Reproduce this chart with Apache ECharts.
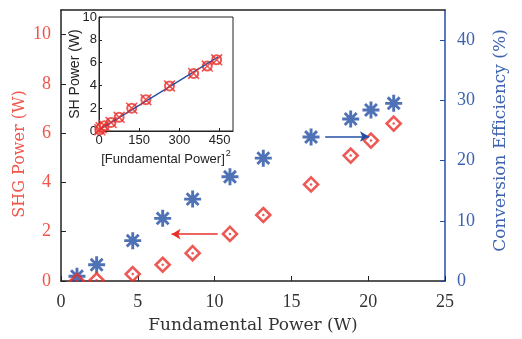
<!DOCTYPE html>
<html>
<head>
<meta charset="utf-8">
<script src="https://cdn.jsdelivr.net/npm/echarts@6/dist/echarts.min.js"></script>
<style>
  html, body { margin: 0; padding: 0; background: #fff; }
  #chart { width: 522px; height: 339px; }
</style>
</head>
<body>
<div id="chart"></div>
<script>
// main plot data
const power = [1.04, 2.32, 4.67, 6.62, 8.57, 11.0, 13.17, 16.28, 18.86, 20.18, 21.66];
const shgPower = [0.0, 0.03, 0.28, 0.66, 1.13, 1.91, 2.68, 3.92, 5.09, 5.70, 6.39];
const efficiency = [0.8, 2.7, 6.7, 10.4, 13.6, 17.3, 20.4, 23.9, 26.9, 28.4, 29.5];
const redArrow = [[10.2, 1.9], [7.2, 1.9]];
const blueArrow = [[17.2, 24.0], [20.05, 24.0]];

// inset data
const powerSq = [3, 8, 20, 45, 75, 122, 175, 263, 353, 404, 439];
const shPower = [0.1, 0.28, 0.45, 0.75, 1.2, 2.0, 2.75, 3.95, 5.05, 5.7, 6.25];
const fitX = [0, 445];
const fitY = [0.1, 6.5];

const RED = '#e8302a';
const RED_TXT = '#f0544a';
const BLUE = '#234ea4';
const BLUE_TXT = '#3e62b0';
const SERIF = '"DejaVu Serif", serif';
const NUM = '"Liberation Serif", serif';
const SANS = '"Liberation Sans", Arial, sans-serif';

const asterisk = 'path://M8.3 0L11.7 0L11.7 20L8.3 20Z M0 8.3L20 8.3L20 11.7L0 11.7Z ' +
  'M4.2 1.8L18.2 15.8L15.8 18.2L1.8 4.2Z M15.8 1.8L18.2 4.2L4.2 18.2L1.8 15.8Z';
const cross = 'path://M3.5 2L18 16.5L16.5 18L2 3.5Z M16.5 2L18 3.5L3.5 18L2 16.5Z';

const zip = (a, b) => a.map((v, i) => [v, b[i]]);

const chart = echarts.init(document.getElementById('chart'));
chart.setOption({
  animation: false,
  backgroundColor: '#fff',
  grid: [
    { left: 61, right: 77, top: 10, bottom: 58, outerBoundsMode: 'none' },
    { left: 99, right: 289, top: 17, bottom: 208, outerBoundsMode: 'none',
      show: true, backgroundColor: '#fff', borderColor: '#222', borderWidth: 1, z: 5 }
  ],
  xAxis: [
    {
      gridIndex: 0, type: 'value', min: 0, max: 25, interval: 5,
      name: 'Fundamental Power (W)', nameLocation: 'middle', nameGap: 36, nameMoveOverlap: false,
      nameTextStyle: { color: '#333', fontFamily: SERIF, fontSize: 17 },
      axisLine: { onZero: false, lineStyle: { color: '#222', width: 1.5 } },
      axisTick: { inside: true, length: 5, lineStyle: { color: '#222' } },
      axisLabel: { color: '#333', fontFamily: NUM, fontSize: 18, margin: 12 },
      splitLine: { show: false }
    },
    {
      gridIndex: 0, type: 'value', min: 0, max: 25, position: 'top',
      axisLine: { onZero: false, lineStyle: { color: '#222', width: 1.5 } },
      axisTick: { show: false }, axisLabel: { show: false }, splitLine: { show: false }
    },
    {
      gridIndex: 1, type: 'value', min: 0, max: 500, interval: 150,
      name: '[Fundamental Power]{s|2}', nameLocation: 'middle', nameGap: 18, nameMoveOverlap: false,
      nameTextStyle: { color: '#222', fontFamily: SANS, fontSize: 13,
        rich: { s: { fontSize: 9, verticalAlign: 'top', padding: [0, 0, 12, 1], color: '#222' } } },
      axisLine: { onZero: false, lineStyle: { color: '#222' } },
      axisTick: { inside: true, length: 3, lineStyle: { color: '#222' } },
      axisLabel: { color: '#222', fontFamily: SANS, fontSize: 13, margin: 3, showMaxLabel: false },
      splitLine: { show: false }, z: 6
    }
  ],
  yAxis: [
    {
      gridIndex: 0, type: 'value', min: 0, max: 11, interval: 2, position: 'left',
      name: 'SHG Power (W)', nameLocation: 'middle', nameGap: 33, nameMoveOverlap: false,
      nameTextStyle: { color: RED_TXT, fontFamily: SERIF, fontSize: 16, padding: [0, 17, 0, 0] },
      axisLine: { show: true, onZero: false, lineStyle: { color: '#222', width: 1.5 } },
      axisTick: { show: true, inside: true, length: 5, lineStyle: { color: '#222' } },
      axisLabel: { color: RED_TXT, fontFamily: NUM, fontSize: 18, margin: 10, showMaxLabel: false },
      splitLine: { show: false }
    },
    {
      gridIndex: 0, type: 'value', min: 0, max: 45, interval: 10, position: 'right',
      name: 'Conversion Efficiency (%)', nameLocation: 'middle', nameGap: 47, nameMoveOverlap: false,
      nameTextStyle: { color: BLUE_TXT, fontFamily: SERIF, fontSize: 17, padding: [0, 0, 0, 10] },
      axisLine: { show: true, onZero: false, lineStyle: { color: BLUE, width: 1.5 } },
      axisTick: { show: true, inside: true, length: 5, lineStyle: { color: BLUE } },
      axisLabel: { color: BLUE_TXT, fontFamily: NUM, fontSize: 18, margin: 12, showMaxLabel: false },
      splitLine: { show: false }
    },
    {
      gridIndex: 1, type: 'value', min: 0, max: 10, interval: 2,
      name: 'SH Power (W)', nameLocation: 'middle', nameGap: 17, nameMoveOverlap: false,
      nameTextStyle: { color: '#222', fontFamily: SANS, fontSize: 14 },
      axisLine: { show: true, onZero: false, lineStyle: { color: '#222' } },
      axisTick: { show: true, inside: true, length: 3, lineStyle: { color: '#222' } },
      axisLabel: { color: '#222', fontFamily: SANS, fontSize: 13, margin: 2 },
      splitLine: { show: false }, z: 6
    }
  ],
  graphic: [
    // hides the parts of markers that fall below the x axis, as in the original
    { type: 'rect', shape: { x: 62, y: 282, width: 383, height: 9 }, style: { fill: '#fff' }, z: 50 }
  ],
  series: [
    {
      type: 'scatter', xAxisIndex: 0, yAxisIndex: 1, data: zip(power, efficiency),
      symbol: asterisk, symbolSize: 17, itemStyle: { color: BLUE },
      markLine: {
        silent: true, symbol: ['none', 'arrow'], symbolSize: [8, 9],
        label: { show: false }, lineStyle: { color: BLUE, width: 1.5, type: 'solid' },
        data: [[{ coord: blueArrow[0] }, { coord: blueArrow[1] }]]
      }
    },
    {
      type: 'scatter', xAxisIndex: 0, yAxisIndex: 0, data: zip(power, shgPower),
      symbol: 'diamond', symbolSize: 14,
      itemStyle: { color: 'rgba(255,255,255,0)', borderColor: RED, borderWidth: 2.6 },
      markLine: {
        silent: true, symbol: ['none', 'arrow'], symbolSize: [8, 9],
        label: { show: false }, lineStyle: { color: RED, width: 1.5, type: 'solid' },
        data: [[{ coord: redArrow[0] }, { coord: redArrow[1] }]]
      }
    },
    {
      type: 'scatter', xAxisIndex: 0, yAxisIndex: 0, data: zip(power, shgPower),
      symbol: 'circle', symbolSize: 2.5, itemStyle: { color: RED }
    },
    {
      type: 'line', xAxisIndex: 2, yAxisIndex: 2, data: zip(fitX, fitY),
      showSymbol: false, lineStyle: { color: BLUE, width: 1.3 }, z: 7
    },
    {
      type: 'scatter', xAxisIndex: 2, yAxisIndex: 2, data: zip(powerSq, shPower),
      symbol: 'emptyCircle', symbolSize: 9, itemStyle: { color: RED, borderWidth: 1.5 },
      z: 6
    },
    {
      type: 'scatter', xAxisIndex: 2, yAxisIndex: 2, data: zip(powerSq, shPower),
      symbol: cross, symbolSize: 12, itemStyle: { color: RED }, z: 8
    }
  ]
});
</script>
</body>
</html>
